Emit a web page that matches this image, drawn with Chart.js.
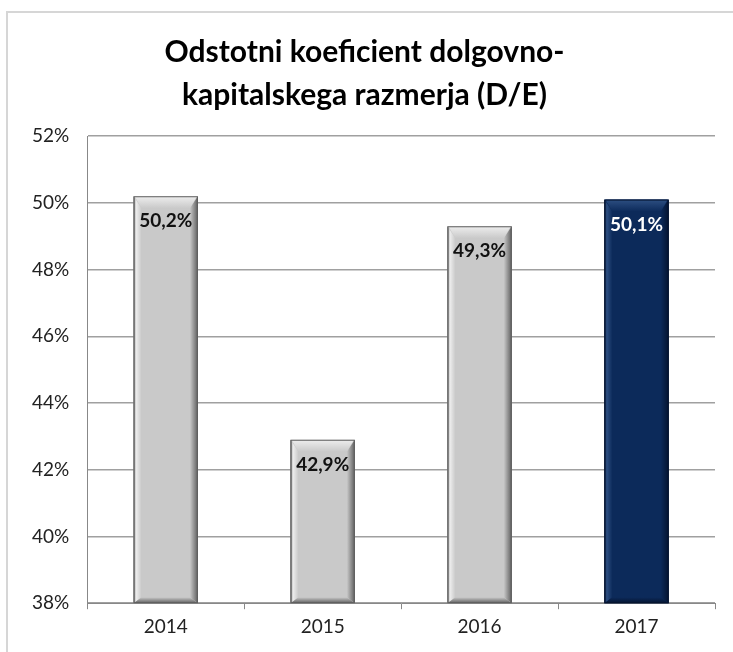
<!DOCTYPE html>
<html>
<head>
<meta charset="utf-8">
<script src="https://cdn.jsdelivr.net/npm/chart.js@4"></script>
<style>
  html, body { margin: 0; padding: 0; background: #fff; }
  #wrap {
    position: absolute; left: 6px; top: 11px; width: 727px; height: 641px;
    border-top: 2px solid #d6d6d6; border-left: 2px solid #d6d6d6;
    box-sizing: border-box;
  }
  #chart { display: block; }
</style>
</head>
<body>
<div id="wrap"><canvas id="chart" width="725" height="639"></canvas></div>
<script>
const years = ["2014", "2015", "2016", "2017"];
const ratios = [50.2, 42.9, 49.3, 50.1];
const barColors = ["#c9c9c9", "#c9c9c9", "#c9c9c9", "#0c2a5a"];
const edgeDark = ["#5e5e5e", "#5e5e5e", "#5e5e5e", "#051430"];
const edgeLight = ["#eeeeee", "#eeeeee", "#eeeeee", "#2d4f82"];
const labelColors = ["#111", "#111", "#111", "#fff"];

const fontFamily = "Lato, 'Open Sans', sans-serif";

// bevel shading and value labels, drawn over the bars
const barDecor = {
  id: "barDecor",
  afterDatasetsDraw(chart) {
    const ctx = chart.ctx;
    const meta = chart.getDatasetMeta(0);
    meta.data.forEach((bar, i) => {
      const half = bar.width / 2;
      const l = bar.x - half, r = bar.x + half;
      const t = bar.y, b = Math.min(bar.base, chart.chartArea.bottom);
      const e = 8;
      ctx.save();
      // left edge
      let g = ctx.createLinearGradient(l, 0, l + e, 0);
      g.addColorStop(0, edgeDark[i]);
      g.addColorStop(0.3, edgeLight[i]);
      g.addColorStop(1, barColors[i]);
      ctx.fillStyle = g;
      ctx.beginPath();
      ctx.moveTo(l, t); ctx.lineTo(l + e, t + e + 4); ctx.lineTo(l + e, b - e + 2); ctx.lineTo(l, b);
      ctx.closePath(); ctx.fill();
      // right edge
      g = ctx.createLinearGradient(r - e, 0, r, 0);
      g.addColorStop(0, barColors[i]);
      g.addColorStop(1, edgeDark[i]);
      ctx.fillStyle = g;
      ctx.beginPath();
      ctx.moveTo(r, t); ctx.lineTo(r - e, t + e + 4); ctx.lineTo(r - e, b - e + 2); ctx.lineTo(r, b);
      ctx.closePath(); ctx.fill();
      // top edge
      g = ctx.createLinearGradient(0, t, 0, t + e + 4);
      g.addColorStop(0, edgeLight[i]);
      g.addColorStop(1, barColors[i]);
      ctx.fillStyle = g;
      ctx.beginPath();
      ctx.moveTo(l + 1, t); ctx.lineTo(r - 1, t); ctx.lineTo(r - e, t + e + 4); ctx.lineTo(l + e, t + e + 4);
      ctx.closePath(); ctx.fill();
      // bottom edge
      g = ctx.createLinearGradient(0, b - e + 2, 0, b);
      g.addColorStop(0, barColors[i]);
      g.addColorStop(1, edgeDark[i]);
      ctx.fillStyle = g;
      ctx.beginPath();
      ctx.moveTo(l, b); ctx.lineTo(r, b); ctx.lineTo(r - e, b - e + 2); ctx.lineTo(l + e, b - e + 2);
      ctx.closePath(); ctx.fill();
      // outline
      ctx.strokeStyle = edgeDark[i];
      ctx.lineWidth = 1;
      ctx.strokeRect(l + 0.5, t + 0.5, r - l - 1, b - t - 1);
      // value
      ctx.fillStyle = labelColors[i];
      ctx.font = "bold 19px " + fontFamily;
      ctx.textAlign = "center";
      ctx.textBaseline = "middle";
      ctx.fillText(ratios[i].toFixed(1).replace(".", ",") + "%", bar.x, t + 25);
      ctx.restore();
    });
  }
};

new Chart(document.getElementById("chart"), {
  type: "bar",
  data: {
    labels: years,
    datasets: [{
      data: ratios,
      backgroundColor: barColors,
      borderWidth: 0,
      categoryPercentage: 1,
      barPercentage: 0.41
    }]
  },
  options: {
    responsive: false,
    animation: false,
    layout: { padding: { left: 6, right: 18, top: 0, bottom: 8 } },
    plugins: {
      legend: { display: false },
      tooltip: { enabled: false },
      title: {
        display: true,
        text: ["Odstotni koeficient dolgovno-", "kapitalskega razmerja (D/E)"],
        color: "#000",
        font: { family: fontFamily, size: 30, weight: "bold", lineHeight: 1.42 },
        padding: { top: 18, bottom: 20 }
      }
    },
    scales: {
      x: {
        grid: { display: true, drawOnChartArea: false, offset: true, color: "#888", tickLength: 6 },
        border: { color: "#888" },
        ticks: { color: "#222", font: { family: fontFamily, size: 19 }, padding: 6 }
      },
      y: {
        min: 38, max: 52,
        ticks: {
          stepSize: 2,
          color: "#222",
          font: { family: fontFamily, size: 19 },
          padding: 18,
          callback: (v) => v + "%"
        },
        grid: { color: "#a0a0a0", lineWidth: 1.5, drawTicks: false },
        border: { display: true, color: "#888" }
      }
    }
  },
  plugins: [barDecor]
});
</script>
</body>
</html>
